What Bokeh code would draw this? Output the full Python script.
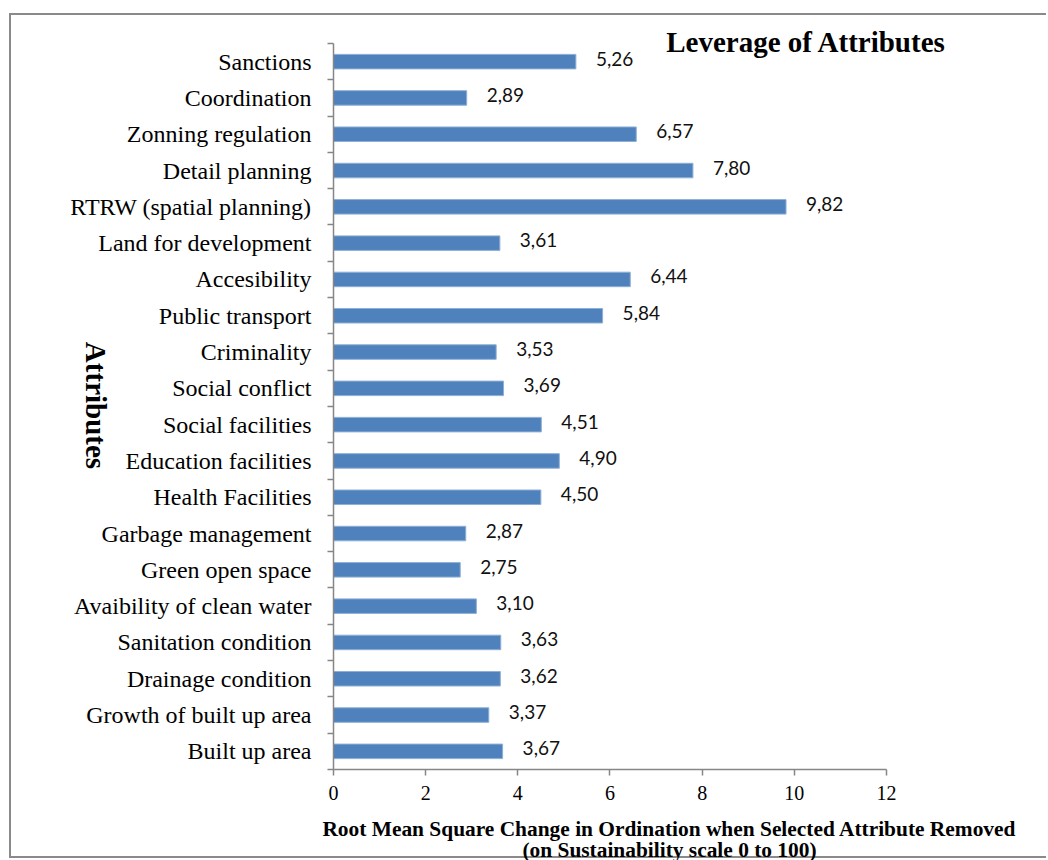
import math
from bokeh.plotting import figure
from bokeh.models import Range1d, FixedTicker, Label, ColumnDataSource
from bokeh.core.properties import value
from bokeh.embed import file_html
from bokeh.resources import INLINE

# Attributes, listed from top to bottom of the chart
attributes = [
    "Sanctions",
    "Coordination",
    "Zonning regulation",
    "Detail planning",
    "RTRW (spatial planning)",
    "Land for development",
    "Accesibility",
    "Public transport",
    "Criminality",
    "Social conflict",
    "Social facilities",
    "Education facilities",
    "Health Facilities",
    "Garbage management",
    "Green open space",
    "Avaibility of clean water",
    "Sanitation condition",
    "Drainage condition",
    "Growth of built up area",
    "Built up area",
]

# Root mean square change in ordination when the attribute is removed
rms_change = [5.26, 2.89, 6.57, 7.80, 9.82, 3.61, 6.44, 5.84, 3.53, 3.69,
              4.51, 4.90, 4.50, 2.87, 2.75, 3.10, 3.63, 3.62, 3.37, 3.67]

x_ticks = [0, 2, 4, 6, 8, 10, 12]
x_max = 12

title_text = "Leverage of Attributes"
y_title = "Attributes"
x_title_1 = "Root Mean Square Change in Ordination when Selected Attribute Removed"
x_title_2 = "(on Sustainability scale 0 to 100)"

n = len(attributes)
ypos = [n - i - 0.5 for i in range(n)]
labels = [f"{v:.2f}".replace(".", ",") for v in rms_change]

source = ColumnDataSource(dict(y=ypos, x=rms_change, name=attributes, label=labels))

SERIF = "Liberation Serif"
GREY = "#868686"
PAGE_W, PAGE_H = 1048, 860

# The plotting frame reaches the top of the canvas and past the last x tick,
# so the chart title can sit inside it; the axes are bounded to the data extent.
p = figure(
    width=1037, height=845,
    x_range=Range1d(0, 14.583), y_range=Range1d(0, 20.771),
    output_backend="svg", toolbar_location=None,
    min_border_left=322, min_border_right=43,
    min_border_top=0, min_border_bottom=91,
)
p.styles = {
    "margin-left": "9px", "margin-top": "13px",
    "border-left": "2px solid #8a8a8a",
    "border-top": "2px solid #8a8a8a",
    "border-bottom": "2px solid #8a8a8a",
}
p.outline_line_color = None
p.grid.grid_line_color = None
p.background_fill_color = "white"
p.border_fill_color = "white"

# bars
p.hbar(y="y", right="x", left=0, height=0.4, source=source,
       fill_color="#4F81BD", line_color="#8EAFD6", line_width=1)

# value labels beside each bar
p.text(x="x", y="y", text="label", source=source,
       x_offset=20, y_offset=-3,
       text_font=value("Lato"), text_font_size="19px",
       text_align="left", text_baseline="middle", text_color="#111111")

# x axis
xa = p.xaxis[0]
xa.bounds = (0, x_max)
xa.ticker = FixedTicker(ticks=x_ticks)
xa.axis_line_color = GREY
xa.axis_line_width = 1.5
xa.major_tick_line_color = GREY
xa.major_tick_line_width = 1.5
xa.major_tick_out = 6
xa.major_tick_in = 0
xa.minor_tick_line_color = None
xa.major_label_text_font = SERIF
xa.major_label_text_font_size = "20px"
xa.major_label_text_color = "black"
xa.major_label_standoff = 10

# y axis: labels at bar centres, tick marks between categories
ya = p.yaxis[0]
ya.bounds = (0, n)
ya.ticker = FixedTicker(ticks=ypos, minor_ticks=list(range(0, n + 1)))
ya.major_label_overrides = {y: name for y, name in zip(ypos, attributes)}
ya.axis_line_color = GREY
ya.axis_line_width = 1.5
ya.major_tick_line_color = None
ya.major_tick_out = 5
ya.major_tick_in = 0
ya.minor_tick_line_color = GREY
ya.minor_tick_line_width = 1.5
ya.minor_tick_out = 6
ya.minor_tick_in = 0
ya.major_label_text_font = SERIF
ya.major_label_text_font_size = "24px"
ya.major_label_text_color = "black"
ya.major_label_standoff = 16

# chart title
p.add_layout(Label(x=10.26, y=20.03, text=title_text,
                   text_font=SERIF, text_font_size="29px", text_font_style="bold",
                   text_color="black", text_align="center", text_baseline="middle"))

# transparent overlay in page pixels carrying the axis titles
q = figure(
    width=PAGE_W, height=PAGE_H,
    x_range=Range1d(0, PAGE_W), y_range=Range1d(PAGE_H, 0),
    x_axis_type=None, y_axis_type=None,
    output_backend="svg", toolbar_location=None,
    min_border=0,
)
q.outline_line_color = None
q.grid.visible = False
q.background_fill_alpha = 0
q.border_fill_alpha = 0
q.styles = {"position": "absolute", "left": "0px", "top": "0px", "pointer-events": "none"}

axis_title_style = dict(text_font=SERIF, text_font_style="bold", text_color="black",
                        text_align="center", text_baseline="middle")
q.add_layout(Label(x=95, y=405, text=y_title, angle=-math.pi / 2,
                   text_font_size="29px", **axis_title_style))
q.add_layout(Label(x=669, y=828, text=x_title_1, text_font_size="21.4px", **axis_title_style))
q.add_layout(Label(x=669, y=849, text=x_title_2, text_font_size="21.4px", **axis_title_style))

open("out.html", "w").write(file_html([p, q], INLINE))
